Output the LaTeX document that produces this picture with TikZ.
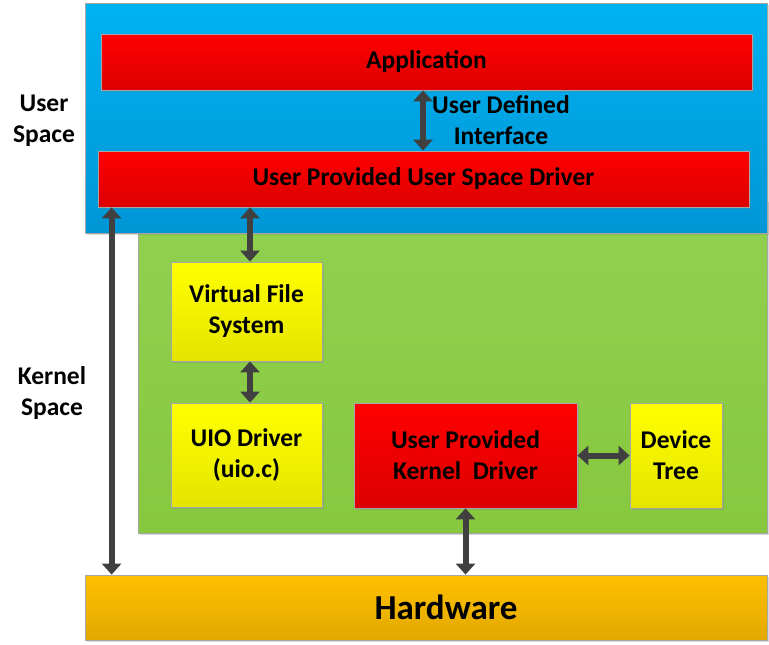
\documentclass[tikz,border=0pt]{standalone}
\usepackage{fontspec}
\setmainfont{Carlito}
\usetikzlibrary{positioning,arrows.meta,shadows}

\definecolor{bluetop}{HTML}{00B2F0}
\definecolor{bluebot}{HTML}{0096D6}
\definecolor{redtop}{HTML}{FF0000}
\definecolor{redbot}{HTML}{DC0000}
\definecolor{yeltop}{HTML}{FFFF00}
\definecolor{yelbot}{HTML}{E4E400}
\definecolor{grntop}{HTML}{92D050}
\definecolor{grnbot}{HTML}{86C83E}
\definecolor{orgtop}{HTML}{FFC000}
\definecolor{orgbot}{HTML}{E2A800}
\definecolor{arrowgray}{HTML}{404040}

\tikzset{
  layer/.style={draw=gray!70, line width=0.8pt, inner sep=0pt,
    drop shadow={shadow xshift=2pt, shadow yshift=-2pt, opacity=0.3}},
  bluebox/.style={layer, top color=bluetop, bottom color=bluebot},
  greenbox/.style={layer, top color=grntop, bottom color=grnbot},
  redbox/.style={layer, top color=redtop, bottom color=redbot,
    font=\fontsize{25.5}{31}\selectfont\bfseries, align=center},
  yelbox/.style={layer, top color=yeltop, bottom color=yelbot,
    font=\fontsize{25.5}{31}\selectfont\bfseries, align=center},
  hwbox/.style={layer, top color=orgtop, bottom color=orgbot,
    font=\fontsize{35}{40}\selectfont\bfseries},
  lbl/.style={font=\fontsize{25.5}{31}\selectfont\bfseries, align=center},
  dbl/.style={draw=arrowgray, line width=6pt,
    {Triangle[width=19pt,length=11pt]}-{Triangle[width=19pt,length=11pt]}}
}

\begin{document}
\begin{tikzpicture}[x=1pt,y=-1pt]
        \useasboundingbox (0,0) rectangle (769,645);

        % kernel space and user space
        \node[greenbox, minimum width=629pt, minimum height=333pt] (kernel) at (452.5,366.5) {};
        \node[bluebox, minimum width=682pt, minimum height=230pt] (user) at (426,118) {};

        % user space boxes
        \node[redbox, minimum width=651pt, minimum height=56pt] (app) at (426.5,62) {Application};
        \node[redbox, minimum width=651pt, minimum height=56pt] (upusd) at (423.5,179) {User Provided User Space Driver};

        % kernel space boxes
        \node[yelbox, minimum width=151pt, minimum height=99pt] (vfs) at (246.5,311.5) {Virtual File\\System};
        \node[yelbox, minimum width=151pt, minimum height=104pt] (uio) at (246.5,455) {UIO Driver\\(uio.c)};
        \node[redbox, minimum width=223pt, minimum height=105pt] (upkd) at (465.5,455.5) {User Provided\\Kernel~~Driver};
        \node[yelbox, minimum width=92pt, minimum height=105pt] (dt) at (676,455.5) {Device\\Tree};

        % hardware
        \node[hwbox, minimum width=682pt, minimum height=65pt] (hw) at (426,607.5) {\hspace*{40pt}Hardware};

        % labels
        \node[lbl] (uslbl) at (44,121) {User\\Space};
        \node[lbl] (kslbl) at (52,393.5) {Kernel\\Space};
        \node[lbl] (udi) at (501,120) {User Defined\\Interface};

        % arrows
        \draw[dbl] ([xshift=-3.5pt]app.south) -- ([xshift=-3.5pt]app.south |- upusd.north);
        \draw[dbl] ([xshift=14pt]upusd.south west) -- ([xshift=14pt]upusd.south west |- hw.north);
        \draw[dbl] ([xshift=3.5pt]vfs.north) -- ([xshift=3.5pt]vfs.north |- upusd.south);
        \draw[dbl] ([xshift=3.5pt]vfs.south) -- ([xshift=3.5pt]uio.north);
        \draw[dbl] (upkd.south) -- (upkd.south |- hw.north);
        \draw[dbl] (upkd.east) -- (dt.west);
    \end{tikzpicture}
\end{document}
